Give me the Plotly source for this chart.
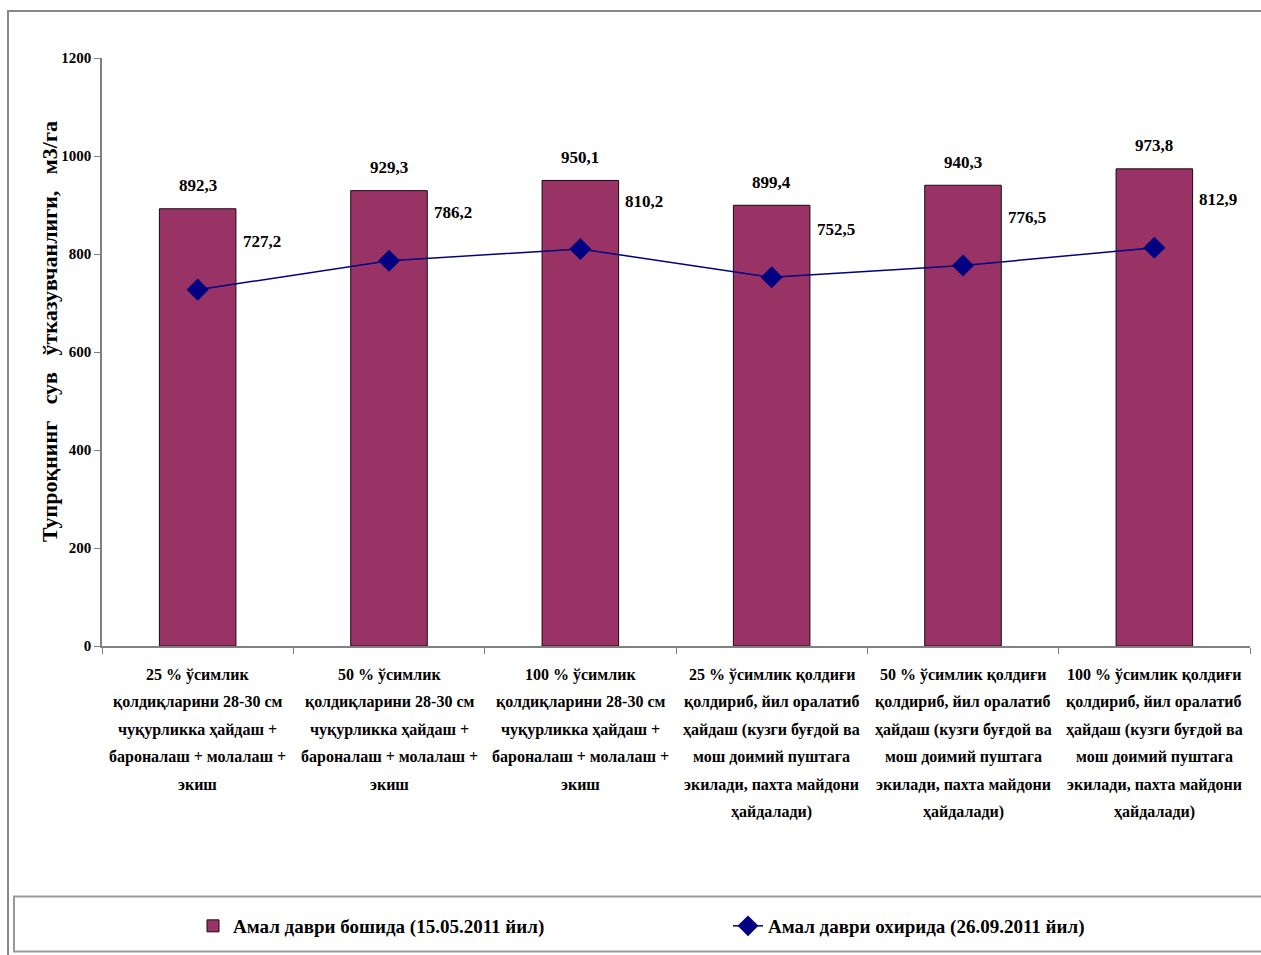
import plotly.graph_objects as go

# ---- data ----
categories = ["c1", "c2", "c3", "c4", "c5", "c6"]
category_lines = [
    ["25 % ўсимлик", "қолдиқларини 28-30 см", "чуқурликка ҳайдаш +", "бароналаш + молалаш +", "экиш"],
    ["50 % ўсимлик", "қолдиқларини 28-30 см", "чуқурликка ҳайдаш +", "бароналаш + молалаш +", "экиш"],
    ["100 % ўсимлик", "қолдиқларини 28-30 см", "чуқурликка ҳайдаш +", "бароналаш + молалаш +", "экиш"],
    ["25 % ўсимлик қолдиғи", "қолдириб, йил оралатиб", "ҳайдаш (кузги буғдой ва", "мош доимий пуштага", "экилади, пахта майдони", "ҳайдалади)"],
    ["50 % ўсимлик қолдиғи", "қолдириб, йил оралатиб", "ҳайдаш (кузги буғдой ва", "мош доимий пуштага", "экилади, пахта майдони", "ҳайдалади)"],
    ["100 % ўсимлик қолдиғи", "қолдириб, йил оралатиб", "ҳайдаш (кузги буғдой ва", "мош доимий пуштага", "экилади, пахта майдони", "ҳайдалади)"],
]
start_values = [892.3, 929.3, 950.1, 899.4, 940.3, 973.8]
end_values = [727.2, 786.2, 810.2, 752.5, 776.5, 812.9]
y_ticks = [0, 200, 400, 600, 800, 1000, 1200]

start_name = "Амал даври бошида (15.05.2011 йил)"
end_name = "Амал даври охирида (26.09.2011 йил)"
y_title = "Тупроқнинг\u00a0\u00a0 сув\u00a0\u00a0 ўтказувчанлиги,\u00a0\u00a0 м3/га"

# ---- layout geometry (pixels) ----
W, H = 1261, 955
ML, MR, MT, MB = 102, 11, 58, 308
PW, PH = W - ML - MR, H - MT - MB


def fx(px):
    return (px - ML) / PW


def fy(py):
    return (H - MB - py) / PH


FONT = "Liberation Serif"
BAR_COLOR = "#993366"
LINE_COLOR = "#000080"


def fmt(v):
    return f"{v:.1f}".replace(".", ",")


fig = go.Figure()
fig.add_trace(go.Bar(
    x=categories, y=start_values, name=start_name, legend="legend",
    marker=dict(color=BAR_COLOR, line=dict(color="#1a0a10", width=1)),
    width=0.4,
))
fig.add_trace(go.Scatter(
    x=categories, y=end_values, name=end_name, mode="lines+markers", legend="legend2",
    line=dict(color=LINE_COLOR, width=1.5),
    marker=dict(symbol="diamond", size=17, color=LINE_COLOR),
))

annotations = []
# value labels above bars
for c, v in zip(categories, start_values):
    annotations.append(dict(x=c, y=v, xref="x", yref="y", text=fmt(v), showarrow=False,
                            yshift=23, font=dict(family=FONT, size=17, color="black", weight="bold")))
# value labels for the line points
for c, v in zip(categories, end_values):
    annotations.append(dict(x=c, y=v, xref="x", yref="y", text=fmt(v), showarrow=False,
                            xshift=64, yshift=48, font=dict(family=FONT, size=17, color="black", weight="bold")))
# multi-line category labels under the axis
for c, lines in zip(categories, category_lines):
    for i, line in enumerate(lines):
        annotations.append(dict(x=c, y=0, xref="x", yref="y", text=line, showarrow=False,
                                yanchor="middle", yshift=-(29 + i * 27.3),
                                font=dict(family=FONT, size=16, color="black", weight="bold")))
# y axis title
annotations.append(dict(x=fx(35), y=fy(332), xref="paper", yref="paper", text=y_title,
                        showarrow=False, textangle=-90,
                        font=dict(family=FONT, size=22, color="black", weight="bold")))

shapes = [
    # outer chart frame
    dict(type="rect", xref="paper", yref="paper", x0=fx(8), x1=fx(1270), y0=fy(965), y1=fy(11),
         line=dict(color="#888888", width=2), layer="below"),
    # legend frame
    dict(type="rect", xref="paper", yref="paper", x0=fx(14), x1=fx(1270), y0=fy(953), y1=fy(898),
         line=dict(color="#999999", width=2), layer="below"),
]

legend_font = dict(family=FONT, size=19, color="black", weight="bold")

fig.update_layout(
    width=W, height=H,
    margin=dict(l=ML, r=MR, t=MT, b=MB),
    paper_bgcolor="white", plot_bgcolor="white",
    font=dict(family=FONT, color="black"),
    bargap=0.6,
    showlegend=True,
    legend=dict(orientation="h", x=fx(193), y=fy(926), xanchor="left", yanchor="middle",
                font=legend_font, bgcolor="rgba(0,0,0,0)", itemwidth=30),
    legend2=dict(orientation="h", x=fx(728), y=fy(926), xanchor="left", yanchor="middle",
                 font=legend_font, bgcolor="rgba(0,0,0,0)", itemwidth=30),
    annotations=annotations,
    shapes=shapes,
    xaxis=dict(showticklabels=False, showline=True, linecolor="#808080", linewidth=1.5,
               ticks="outside", tickson="boundaries", ticklen=6, tickcolor="#808080",
               showgrid=False, zeroline=False),
    yaxis=dict(range=[0, 1200], tickvals=y_ticks, showline=True, linecolor="#808080", linewidth=1.5,
               ticks="outside", ticklen=6, tickcolor="#808080", showgrid=False, zeroline=False,
               tickfont=dict(family=FONT, size=15, color="black", weight="bold")),
)

fig.write_html("out.html")
